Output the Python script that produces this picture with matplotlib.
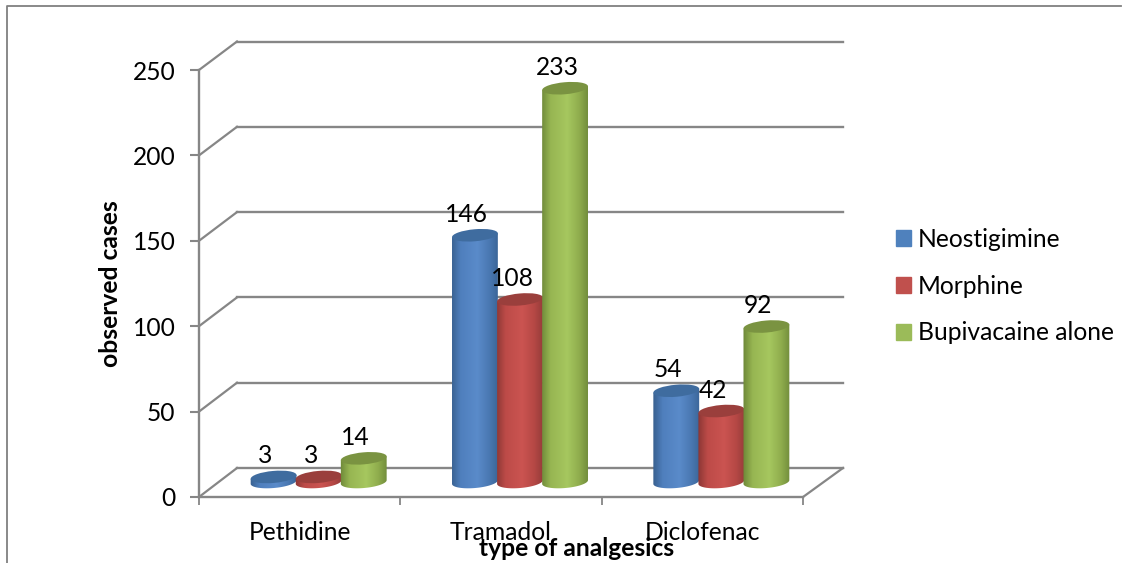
import numpy as np
import matplotlib
matplotlib.use("Agg")
import matplotlib.pyplot as plt
from matplotlib.colors import LinearSegmentedColormap
from matplotlib.lines import Line2D
from matplotlib.patches import Ellipse, Patch
from matplotlib.path import Path
from matplotlib.transforms import IdentityTransform

categories = ["Pethidine", "Tramadol", "Diclofenac"]
series_names = ["Neostigimine", "Morphine", "Bupivacaine alone"]
neostigimine = [3, 146, 54]
morphine = [3, 108, 42]
bupivacaine = [14, 233, 92]
series_values = [neostigimine, morphine, bupivacaine]
y_ticks = [0, 50, 100, 150, 200, 250]
x_title = "type of analgesics"
y_title = "observed cases"

W, H = 1129, 563
FS = 17.7
GREY = "#868686"
plt.rcParams["font.family"] = ["Lato", "DejaVu Sans"]

fig = plt.figure(figsize=(W / 100, H / 100), dpi=100, facecolor="white")


def box(x0, x1, ytop, ybot):
    return [x0 / W, 1 - ybot / H, (x1 - x0) / W, (ybot - ytop) / H]


def styled(ax):
    ax.patch.set_visible(False)
    ax.set_xlim(0, 3)
    ax.set_autoscale_on(False)
    for s in ax.spines.values():
        s.set_visible(False)


# back wall with the gridlines
back = fig.add_axes(box(237, 843, 41.5, 468), zorder=1)
styled(back)
back.set_ylim(0, 250)
back.set_xticks([])
back.set_yticks(y_ticks)
back.tick_params(left=False, labelleft=False)
back.grid(axis="y", color=GREY, lw=1.7, clip_on=False)
back.set_axisbelow(True)

# front plane with axes, ticks, titles
ax = fig.add_axes(box(199, 803, 70, 497), zorder=2)
styled(ax)
ax.set_ylim(0, 250)
for name in ("left", "bottom"):
    ax.spines[name].set_visible(True)
    ax.spines[name].set_color(GREY)
    ax.spines[name].set_linewidth(1.7)
ax.set_yticks(y_ticks)
ax.set_xticks([0, 1, 2, 3])
ax.set_xticklabels([])
ax.set_xticks(np.arange(len(categories)) + 0.5, categories, minor=True)
ax.tick_params(axis="y", length=6.5, width=1.5, color=GREY, labelsize=FS, pad=10.5)
ax.tick_params(axis="x", which="major", length=6, width=1.3, color=GREY)
ax.tick_params(axis="x", which="minor", length=0, labelsize=FS, pad=17.5)
ax.set_ylabel(y_title, fontsize=FS, fontweight="bold", va="center")
ax.yaxis.set_label_coords((111 - 199) / 604, (497 - 284) / 427)
ax.set_xlabel(x_title, fontsize=FS, fontweight="bold", va="center")
ax.xaxis.set_label_coords((577 - 199) / 604, (497 - 549) / 427)

# side wall and floor connectors between the front plane and back wall
for v in y_ticks:
    p0 = ax.transData.transform((0, v))
    p1 = back.transData.transform((0, v))
    fig.add_artist(Line2D([p0[0], p1[0]], [p0[1], p1[1]], color=GREY, lw=1.6,
                          transform=IdentityTransform(), zorder=1))
p0 = ax.transData.transform((3, 0))
p1 = back.transData.transform((3, 0))
fig.add_artist(Line2D([p0[0], p1[0]], [p0[1], p1[1]], color=GREY, lw=1.6,
                      transform=IdentityTransform(), zorder=1))

# surrounding frame of the picture
fig.add_artist(Line2D([6.5 / W, 6.5 / W, 1121 / W], [0, 1 - 5.5 / H, 1 - 5.5 / H],
                      color="#808080", lw=1.3, zorder=0))

# plane in which the cylinders stand
bars = fig.add_axes(box(218, 822, 59.5, 482), zorder=3)
styled(bars)
bars.set_ylim(0, 250)
bars.set_xticks([])
bars.set_yticks([])

shades = [
    ("#38608f", "#4f7fbd", "#5a8bca", "#4a78b2", "#3a6496", "#3f6c9f"),
    ("#8b3735", "#bd4b48", "#cb5451", "#b54845", "#933b39", "#9a3f3c"),
    ("#6d8738", "#97b652", "#a6c75f", "#8fad4d", "#6f8a3a", "#7a9341"),
]
legend_colours = ["#4f81bd", "#c0504d", "#9bbb59"]

BAR_W = 45 / 201
HALF = 23
MINOR = 6
TILT = np.deg2rad(5)


def ellipse_pts(cx, cy, t):
    ex, ey = HALF * np.cos(t), MINOR * np.sin(t)
    return (cx + ex * np.cos(TILT) - ey * np.sin(TILT),
            cy + ex * np.sin(TILT) + ey * np.cos(TILT))


for s, (vals, shade) in enumerate(zip(series_values, shades)):
    cmap = LinearSegmentedColormap.from_list(
        f"cyl{s}", list(zip([0, 0.2, 0.55, 0.8, 1], shade[:5])))
    for i, v in enumerate(vals):
        x = i + 0.5 + (s - 1) * BAR_W
        cx, base = bars.transData.transform((x, 0))
        cx, top = bars.transData.transform((x, v))
        t = np.linspace(np.pi, 2 * np.pi, 50)
        bx, by = ellipse_pts(cx, base, t)
        lx, ly = ellipse_pts(cx, top, np.array([0.0, np.pi]))
        verts = np.column_stack([np.r_[bx, lx], np.r_[by, ly]])
        verts = np.vstack([verts, verts[0]])
        im = bars.imshow(np.linspace(0, 1, 128)[None, :], cmap=cmap, aspect="auto",
                         extent=(x - 1.05 * BAR_W / 2, x + 1.05 * BAR_W / 2, -10, v + 10),
                         zorder=3 + s)
        im.set_clip_box(fig.bbox)
        im.set_clip_path(Path(verts), IdentityTransform())
        e = Ellipse((cx, top), 2 * HALF, 2 * MINOR, angle=np.degrees(TILT),
                    transform=IdentityTransform(), fc=shade[5], ec="none", zorder=3 + s)
        bars.add_artist(e)
        e.set_clip_on(False)
        bars.annotate(str(v), (x, v), xytext=(-8, 21), textcoords="offset pixels",
                      ha="center", va="center", fontsize=FS, color="black",
                      annotation_clip=False, zorder=10)
bars.set_xlim(0, 3)
bars.set_ylim(0, 250)

handles = [Patch(color=c, label=n) for c, n in zip(legend_colours, series_names)]
fig.legend(handles=handles, loc="center left", bbox_to_anchor=(896 / W, 1 - 286 / H),
           frameon=False, fontsize=FS, handlelength=0.61, handleheight=0.61,
           handletextpad=0.28, labelspacing=0.97, borderpad=0, borderaxespad=0)

fig.savefig("out.png", dpi=100)
